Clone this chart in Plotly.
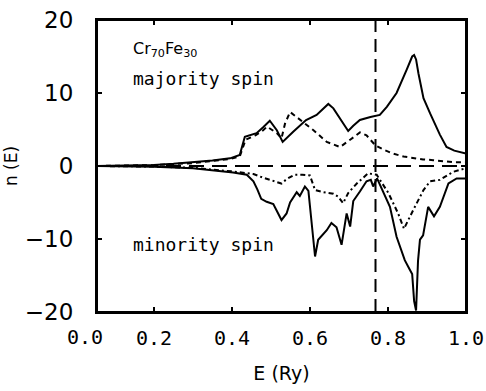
import plotly.graph_objects as go

# ---- data ----
E_maj_tot = [0.054, 0.15, 0.2, 0.25, 0.3, 0.35, 0.395, 0.42, 0.433, 0.463, 0.48, 0.497, 0.515, 0.53,
             0.557, 0.59, 0.617, 0.647, 0.66, 0.677, 0.698, 0.711, 0.728, 0.755, 0.779, 0.797, 0.822,
             0.848, 0.862, 0.867, 0.872, 0.878, 0.891, 0.908, 0.92, 0.933, 0.95, 0.97, 1.0]
n_maj_tot = [0.0, 0.05, 0.15, 0.3, 0.5, 0.75, 1.05, 1.5, 4.0, 4.5, 5.3, 6.2, 4.9, 3.3,
             4.7, 6.3, 7.0, 8.5, 7.9, 6.5, 4.8, 5.5, 6.3, 6.7, 7.0, 8.1, 10.0,
             13.2, 15.0, 15.2, 14.6, 12.7, 9.3, 7.2, 5.8, 4.3, 2.6, 2.1, 1.7]

E_maj_part = [0.054, 0.2, 0.3, 0.35, 0.395, 0.42, 0.435, 0.46, 0.48, 0.49, 0.515, 0.527, 0.536,
              0.549, 0.57, 0.609, 0.643, 0.677, 0.703, 0.728, 0.745, 0.768, 0.79, 0.813, 0.84,
              0.865, 0.89, 0.916, 0.94, 0.97, 1.0]
n_maj_part = [0.0, 0.12, 0.4, 0.65, 0.95, 1.3, 3.6, 4.2, 4.9, 5.4, 4.5, 3.8, 5.8,
              7.4, 6.5, 4.9, 3.3, 2.6, 3.6, 4.6, 4.2, 2.8, 2.2, 1.7, 1.3,
              1.05, 0.9, 0.8, 0.7, 0.5, 0.5]

E_min_tot = [0.054, 0.2, 0.3, 0.35, 0.403, 0.438, 0.455, 0.465, 0.475, 0.489, 0.506, 0.527, 0.54,
             0.549, 0.566, 0.574, 0.587, 0.596, 0.613, 0.621, 0.643, 0.655, 0.668, 0.681, 0.694,
             0.703, 0.711, 0.728, 0.745, 0.756, 0.762, 0.772, 0.788, 0.805, 0.822, 0.843, 0.856,
             0.862, 0.867, 0.872, 0.877, 0.882, 0.89, 0.903, 0.918, 0.933, 0.955, 0.976, 1.0]
n_min_tot = [0.0, -0.1, -0.3, -0.55, -0.9, -1.2, -2.1, -3.2, -4.5, -4.9, -5.2, -7.4, -6.5,
             -5.0, -3.6, -4.1, -2.8, -3.4, -12.4, -10.1, -8.8, -7.8, -8.4, -10.8, -6.5,
             -8.3, -4.8, -3.5, -2.1, -1.9, -2.8, -1.7, -3.7, -5.6, -9.7, -12.9, -14.2,
             -14.8, -18.5, -19.8, -13.0, -10.1, -9.5, -5.6, -6.9, -5.6, -2.4, -1.7, -1.7]

E_min_part = [0.054, 0.2, 0.3, 0.35, 0.403, 0.44, 0.455, 0.48, 0.5, 0.527, 0.54, 0.56, 0.58,
              0.6, 0.613, 0.635, 0.66, 0.672, 0.685, 0.698, 0.72, 0.749, 0.771, 0.801, 0.826,
              0.841, 0.865, 0.891, 0.908, 0.933, 0.967, 1.0]
n_min_part = [0.0, -0.08, -0.25, -0.45, -0.75, -1.0, -1.1, -1.6, -1.9, -2.4, -1.8, -1.2, -1.2,
              -1.3, -3.3, -3.6, -3.8, -4.2, -5.1, -3.7, -2.4, -1.0, -1.2, -3.7, -6.5,
              -8.6, -6.0, -3.3, -2.1, -1.9, -0.8, -0.3]

E_fermi = 0.768
x_range = [0.054, 1.0]
y_range = [-20, 20]
x_ticks = [0.2, 0.4, 0.6, 0.8, 1.0]
x_ticktext = ["0.2", "0.4", "0.6", "0.8", "1.0"]
y_ticks = [-20, -10, 0, 10, 20]
y_ticktext = ["\u221220", "\u221210", "0", "10", "20"]

fig = go.Figure()

line_style = dict(color="black", width=2)
fig.add_trace(go.Scatter(x=E_maj_tot, y=n_maj_tot, mode="lines", line=line_style, hoverinfo="skip"))
fig.add_trace(go.Scatter(x=E_maj_part, y=n_maj_part, mode="lines",
                         line=dict(color="black", width=2, dash="5px,4px"), hoverinfo="skip"))
fig.add_trace(go.Scatter(x=E_min_tot, y=n_min_tot, mode="lines", line=line_style, hoverinfo="skip"))
fig.add_trace(go.Scatter(x=E_min_part, y=n_min_part, mode="lines",
                         line=dict(color="black", width=2, dash="5px,3px,2px,3px"), hoverinfo="skip"))

# zero line and Fermi level
fig.add_trace(go.Scatter(x=x_range, y=[0, 0], mode="lines",
                         line=dict(color="black", width=2, dash="15px,8px"), hoverinfo="skip"))
fig.add_trace(go.Scatter(x=[E_fermi, E_fermi], y=y_range, mode="lines",
                         line=dict(color="black", width=2, dash="13px,7px"), hoverinfo="skip"))

tick_font_x = dict(family="DejaVu Sans Mono", size=20, color="black")
tick_font_y = dict(family="DejaVu Sans", size=23, color="black")

fig.update_layout(
    width=486, height=391,
    margin=dict(l=97, r=20, t=20, b=79, autoexpand=False),
    paper_bgcolor="white", plot_bgcolor="white",
    showlegend=False,
    xaxis=dict(range=x_range, tickvals=x_ticks, ticktext=x_ticktext, automargin=False,
               ticks="inside", ticklen=5, tickwidth=1.5, tickcolor="black",
               showline=True, linecolor="black", linewidth=2, mirror="ticks",
               showgrid=False, zeroline=False, tickfont=tick_font_x,
               ticklabelstandoff=7,
               title=dict(text="E (Ry)", font=dict(family="DejaVu Sans", size=19, color="black"),
                          standoff=18)),
    yaxis=dict(range=y_range, tickvals=y_ticks, ticktext=y_ticktext, automargin=False,
               ticks="inside", ticklen=5, tickwidth=1.5, tickcolor="black",
               showline=True, linecolor="black", linewidth=2, mirror="ticks",
               showgrid=False, zeroline=False, tickfont=tick_font_y,
               ticklabelstandoff=17,
               title=dict(text="n (E)", font=dict(family="DejaVu Sans", size=17, color="black"),
                          standoff=3)),
)

# frame around the plot area
fig.add_shape(type="rect", xref="paper", yref="paper", x0=0, y0=0, x1=1, y1=1,
              line=dict(color="black", width=2), layer="above")

fig.add_annotation(text="0.0", xref="paper", yref="paper", x=-12 / 369, y=0,
                   xanchor="center", yanchor="top", yshift=-11, showarrow=False,
                   font=tick_font_x)
fig.add_annotation(text="Cr<sub>70</sub>Fe<sub>30</sub>", xref="x", yref="y",
                   x=0.14, y=15.9, xanchor="left", yanchor="middle", showarrow=False,
                   font=dict(family="DejaVu Sans", size=16, color="black"))
fig.add_annotation(text="majority spin", xref="x", yref="y",
                   x=0.14, y=12.0, xanchor="left", yanchor="middle", showarrow=False,
                   font=dict(family="DejaVu Sans Mono", size=18, color="black"))
fig.add_annotation(text="minority spin", xref="x", yref="y",
                   x=0.14, y=-10.8, xanchor="left", yanchor="middle", showarrow=False,
                   font=dict(family="DejaVu Sans Mono", size=18, color="black"))

fig.write_html("out.html")
